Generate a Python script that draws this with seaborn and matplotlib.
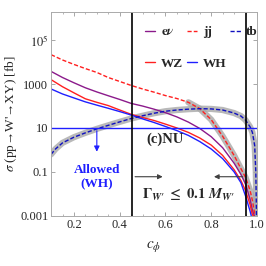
import numpy as np
import pandas as pd
import matplotlib
matplotlib.use('Agg')
import matplotlib.pyplot as plt
import matplotlib.ticker as mticker
import seaborn as sns

# c_phi grid and cross sections [fb]
c_main = [0.1, 0.15, 0.2, 0.25, 0.3, 0.35, 0.4, 0.45, 0.5, 0.55, 0.6, 0.65,
          0.7, 0.75, 0.8, 0.85, 0.9, 0.93, 0.95, 0.97, 0.98, 0.99]

jj = [2.2e4, 1.26e4, 7.9e3, 5.1e3, 3.4e3, 2.0e3, 1.32e3, 870, 600, 430, 300, 220,
      148, 76, 24, 4.2, 0.56, 0.14, 0.056, 0.014, 0.005, 0.0012]

enu = [3.8e3, 2.0e3, 1.15e3, 680, 440, 295, 200, 132, 100, 72, 50, 32,
       18.6, 9.5, 4.0, 1.26, 0.25, 0.076, 0.028, 0.0056, 0.0018, 0.0009]

wz = [1.6e3, 760, 400, 214, 148, 105, 66, 42, 30, 22, 15, 10,
      6.3, 3.5, 1.66, 0.56, 0.126, 0.04, 0.014, 0.0032, 0.0011, 0.0009]

c_wh = [0.1, 0.15, 0.2, 0.25, 0.3, 0.35, 0.4, 0.45, 0.5, 0.55, 0.6, 0.65,
        0.7, 0.75, 0.8, 0.85, 0.9, 0.93, 0.95, 0.97, 0.975]
wh = [600, 355, 234, 155, 110, 79, 56, 39, 26, 17.8, 11.7, 7.6,
      4.6, 2.4, 1.1, 0.4, 0.1, 0.032, 0.008, 0.0016, 0.001]

c_tb = [0.1, 0.12, 0.15, 0.2, 0.25, 0.3, 0.35, 0.4, 0.45, 0.5, 0.55, 0.6, 0.65,
        0.7, 0.75, 0.8, 0.85, 0.9, 0.93, 0.95, 0.97, 0.98, 0.99, 0.995, 0.998]
tb = [0.63, 1.12, 2.1, 3.8, 6.0, 9.1, 13.2, 19, 27, 36, 47, 58, 66,
      72, 76, 74, 66, 48, 35, 23, 11.2, 6.3, 1.6, 0.1, 0.001]

c_lo, c_hi = 0.455, 0.95

sns.set_style('ticks')
plt.rcParams['font.family'] = ['Liberation Serif', 'DejaVu Serif']
plt.rcParams['mathtext.fontset'] = 'stix'

fig = plt.figure(figsize=(2.66, 2.66), dpi=100)
ax = fig.add_axes([0.192, 0.189, 0.774, 0.767])
ax.set_yscale('log')

halo = dict(color='#a8a8a8', lw=4.5, alpha=0.8, legend=False)
sns.lineplot(x=c_tb, y=tb, ax=ax, **halo)
sel = [i for i, c in enumerate(c_main) if c >= 0.7]
sns.lineplot(x=[c_main[i] for i in sel], y=[jj[i] for i in sel], ax=ax, **halo)

sns.lineplot(x=c_main, y=enu, ax=ax, color='#8b1a8b', lw=1.0, label=r'$\mathbf{e}\boldsymbol{\nu}$')
sns.lineplot(x=c_main, y=wz, ax=ax, color='#ff2020', lw=1.0, label='WZ')
sns.lineplot(x=c_main, y=jj, ax=ax, color='#ff2020', lw=1.0, dashes=(3, 1.5), label='jj')
sns.lineplot(x=c_wh, y=wh, ax=ax, color='#1f1fff', lw=1.0, label='WH')
sns.lineplot(x=c_tb, y=tb, ax=ax, color='#1010c0', lw=1.0, dashes=(3, 1.5), label='tb')

ax.axhline(10, color='#1f1fff', lw=1.0)
ax.axvline(c_lo, color='black', lw=1.2)
ax.axvline(c_hi, color='black', lw=1.2)

ax.set_xlim(0.1, 1.0)
ax.set_ylim(1e-3, 2e6)

# allowed band arrows
ax.annotate('', xy=(0.60, 0.06), xytext=(c_lo, 0.06),
            arrowprops=dict(arrowstyle='-|>', color='#404040', lw=0.8, mutation_scale=7))
ax.annotate('', xy=(0.80, 0.06), xytext=(c_hi, 0.06),
            arrowprops=dict(arrowstyle='-|>', color='#404040', lw=0.8, mutation_scale=7))
ax.annotate('', xy=(0.3, 0.62), xytext=(0.3, 10),
            arrowprops=dict(arrowstyle='-|>', color='#1f1fff', lw=0.8, mutation_scale=8))

ax.text(0.3, 0.06, 'Allowed\n(WH)', color='#1f1fff', fontsize=9.5, fontweight='bold',
        ha='center', va='center', linespacing=1.25)
ax.text(0.60, 3.2, '(c)NU', fontsize=10.5, fontweight='bold', ha='center', va='center')
ax.text(0.70, 0.0085, r'$\mathbf{\Gamma}_{\mathbfit{W}\mathbf{\prime}}\ \mathbf{\leq\ 0.1}\ \mathbfit{M}_{\mathbfit{W}\mathbf{\prime}}$',
        fontsize=10.5, ha='center', va='center')

ax.set_xlabel(r'$c_{\phi}$', fontsize=11, labelpad=6)
ax.set_ylabel(r"$\sigma$ (pp→W'→XY) [fb]", fontsize=9.5, labelpad=1)

ax.yaxis.set_major_locator(mticker.FixedLocator([1e-3, 1e-1, 1e1, 1e3, 1e5]))
ax.set_yticklabels(['0.001', '0.1', '10', '1000', r'$10^5$'])
ax.yaxis.set_minor_locator(mticker.LogLocator(base=10, subs=(1.0, 3.0)))
ax.yaxis.set_minor_formatter(mticker.NullFormatter())
ax.set_xticks([0.2, 0.4, 0.6, 0.8, 1.0])
ax.set_xticklabels(['0.2', '0.4', '0.6', '0.8', '1.0'])
ax.xaxis.set_minor_locator(mticker.MultipleLocator(0.05))
ax.tick_params(which='both', direction='in', top=True, right=True, color='#999999',
               labelsize=9, pad=2)
ax.tick_params(which='major', length=3, width=0.6)
ax.tick_params(which='minor', length=1.5, width=0.5)
for s in ax.spines.values():
    s.set_color('#aaaaaa')
    s.set_linewidth(0.7)

h, l = ax.get_legend_handles_labels()
leg = ax.legend(h, l, ncol=3, frameon=False,
                loc='upper left', bbox_to_anchor=(0.43, 0.955), fontsize=9.5,
                handlelength=0.8, handletextpad=0.4, columnspacing=0.3,
                labelspacing=1.45, borderaxespad=0)
for t in leg.get_texts():
    t.set_fontweight('bold')

fig.savefig('out.png', dpi=100)
